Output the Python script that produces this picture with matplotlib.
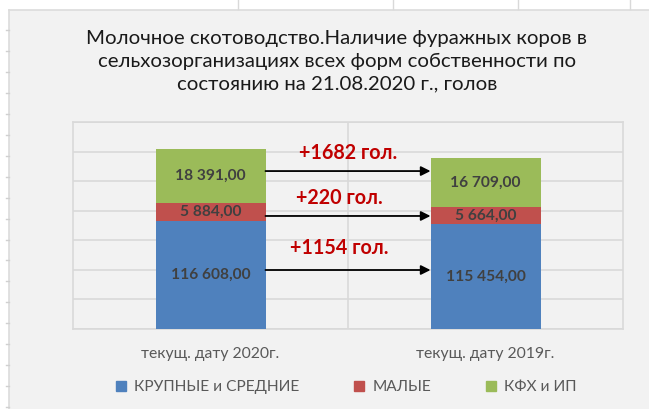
import matplotlib
matplotlib.use("Agg")
import matplotlib.pyplot as plt
from matplotlib.lines import Line2D
from matplotlib.patches import Rectangle
import matplotlib.transforms as mtrans

plt.rcParams['font.family'] = ['Lato', 'DejaVu Sans']

# data
categories = ['текущ. дату 2020г.', 'текущ. дату 2019г.']
series_names = ['КРУПНЫЕ и СРЕДНИЕ', 'МАЛЫЕ', 'КФХ и ИП']
large_medium = [116608, 115454]
small = [5884, 5664]
kfh_ip = [18391, 16709]
diff_labels = ['+1682 гол.', '+220 гол.', '+1154 гол.']

colors = ['#4f81bd', '#c0504d', '#9bbb59']
title = ('Молочное скотоводство.Наличие фуражных коров в\n'
         'сельхозорганизациях всех форм собственности по\n'
         'состоянию на 21.08.2020 г., голов')

W, H = 649, 409
fig = plt.figure(figsize=(W / 100, H / 100), dpi=100)
fig.patch.set_facecolor('white')

# chart area (excel style, with a bit of sheet visible)
fig.patches.append(Rectangle((9 / W, 0), (W - 9) / W, (H - 9.5) / H,
                             transform=fig.transFigure, facecolor='#f2f2f2',
                             edgecolor='none', zorder=-5))
fig.add_artist(Line2D([9 / W, 9 / W], [0, 1 - 9.5 / H], color='#dcdcdc', lw=1.2))
fig.add_artist(Line2D([9 / W, 1], [1 - 9.5 / H] * 2, color='#dcdcdc', lw=1.2))
for k in range(19):
    yy = 1 - (30 + 20.95 * k) / H
    fig.add_artist(Line2D([6 / W, 9 / W], [yy, yy], color='#d0d0d0', lw=1))
for xx in [238, 393, 518, 630]:
    fig.add_artist(Line2D([xx / W, xx / W], [1, 1 - 9 / H], color='#d9d9d9', lw=1))

ax = fig.add_axes([73 / W, (H - 329) / H, 550 / W, 207 / H])
ax.set_facecolor('#f2f2f2')

x = range(len(categories))
width = 0.4
bottoms = [0, 0]
for vals, c in zip([large_medium, small, kfh_ip], colors):
    bars = ax.bar(x, vals, width, bottom=bottoms, color=c, zorder=3)
    for b, v, bt in zip(bars, vals, bottoms):
        lbl = f'{v:,.2f}'.replace(',', ' ').replace('.', ',')
        ybase = max(bt, 80000)
        ax.text(b.get_x() + b.get_width() / 2, (ybase + bt + v) / 2, lbl,
                ha='center', va='center', fontsize=11.2, fontweight='bold',
                color='#404040', zorder=4)
    bottoms = [bt + v for bt, v in zip(bottoms, vals)]

ax.set_ylim(80000, 150000)
ax.set_xlim(-0.5, 1.5)
ax.set_yticks(range(80000, 150001, 10000))
ax.yaxis.grid(True, color='#d9d9d9', lw=1.2, zorder=0)
ax.axvline(0.5, color='#d9d9d9', lw=1.2, zorder=0)
ax.tick_params(axis='y', left=False, labelleft=False)
ax.tick_params(axis='x', length=0, pad=13, labelsize=11.3, labelcolor='#595959')
ax.set_xticks(list(x))
ax.set_xticklabels(categories)
for s in ax.spines.values():
    s.set_color('#d9d9d9')
    s.set_linewidth(1.2)

# arrows + differences
trans = mtrans.blended_transform_factory(ax.transData, ax.transAxes)
arrow_y = [0.763, 0.546, 0.285]
text_pos = [(0.5, 0.85), (0.484, 0.633), (0.484, 0.392)]
for ay, (tx, ty), t in zip(arrow_y, text_pos, diff_labels):
    ax.annotate('', xy=(0.5 + width / 2 + 0.1, ay), xytext=(width / 2, ay),
                xycoords=trans, textcoords=trans,
                arrowprops=dict(arrowstyle='-|>', color='black', lw=1.3,
                                mutation_scale=14, shrinkA=0, shrinkB=0),
                zorder=5)
    ax.text(tx, ty, t, transform=ax.transAxes, ha='center', va='center',
            fontsize=14.2, fontweight='bold', color='#c00000', zorder=5)

fig.text(337 / W, 1 - 61 / H, title, ha='center', va='center', fontsize=14.7,
         color='#1a1a1a', linespacing=1.42)

handles = [Line2D([], [], marker='s', ls='none', color=c, markersize=7) for c in colors]
fig.legend(handles, series_names, loc='center', bbox_to_anchor=(346 / W, 1 - 387 / H),
           ncol=3, frameon=False, fontsize=11.2, labelcolor='#595959',
           handlelength=0.7, handletextpad=0.5, columnspacing=3.5)

fig.savefig('out.png', dpi=100, facecolor=fig.get_facecolor())
